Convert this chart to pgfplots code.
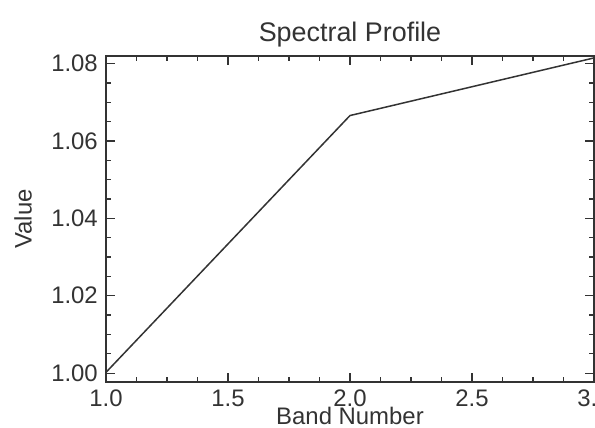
\documentclass[border=0pt]{standalone}
\usepackage{fontspec}
\setmainfont{Liberation Sans}
\usepackage{pgfplots}
\pgfplotsset{compat=1.18}
\begin{document}
\begin{tikzpicture}
\begin{axis}[
  name=ax,
  scale only axis,
  width=488bp, height=326bp,
  xmin=1, xmax=3,
  ymin=0.9977, ymax=1.0820,
  xtick={1.0,1.5,2.0,2.5,3.0},
  ytick={1.00,1.02,1.04,1.06,1.08},
  minor x tick num=3,
  minor y tick num=3,
  tick align=inside,
  major tick length=9bp,
  minor tick length=5bp,
  every tick/.style={black!80, line width=1.2bp},
  axis line style={black!80, line width=1.5bp},
  scaled y ticks=false,
  scaled x ticks=false,
  /pgf/number format/assume math mode=true,
  xticklabel style={/pgf/number format/.cd, fixed, fixed zerofill, precision=1, /tikz/.cd, anchor=base, inner sep=0pt, yshift=-24bp},
  yticklabel style={/pgf/number format/.cd, fixed, fixed zerofill, precision=2, /tikz/.cd, anchor=east, inner sep=0pt, xshift=-8bp},
  tick label style={font=\fontsize{24}{28}\selectfont, text=black!80},
  title={Spectral Profile},
  title style={at={(axis description cs:0.5,1)}, anchor=base, yshift=9bp, inner sep=0pt, font=\fontsize{27}{32}\selectfont, text=black!80},
  xlabel={Band Number},
  xlabel style={at={(axis description cs:0.5,0)}, anchor=center, yshift=-34bp, inner sep=0pt, font=\fontsize{24}{28}\selectfont, text=black!80},
  ylabel={Value},
  every axis y label/.style={at={([xshift=-83bp]axis description cs:0,0.5)}, rotate=90, anchor=center, inner sep=0pt, font=\fontsize{24}{28}\selectfont, text=black!80},
]
\addplot[black!80, line width=1.5bp, mark=none] coordinates {
  (1, 1.0002) (2, 1.0666) (3, 1.0815)
};
\end{axis}
\pgfresetboundingbox
\path[use as bounding box] ([xshift=-106bp,yshift=-46bp]ax.south west) rectangle ([xshift=1bp,yshift=56bp]ax.north east);
\end{tikzpicture}
\end{document}
